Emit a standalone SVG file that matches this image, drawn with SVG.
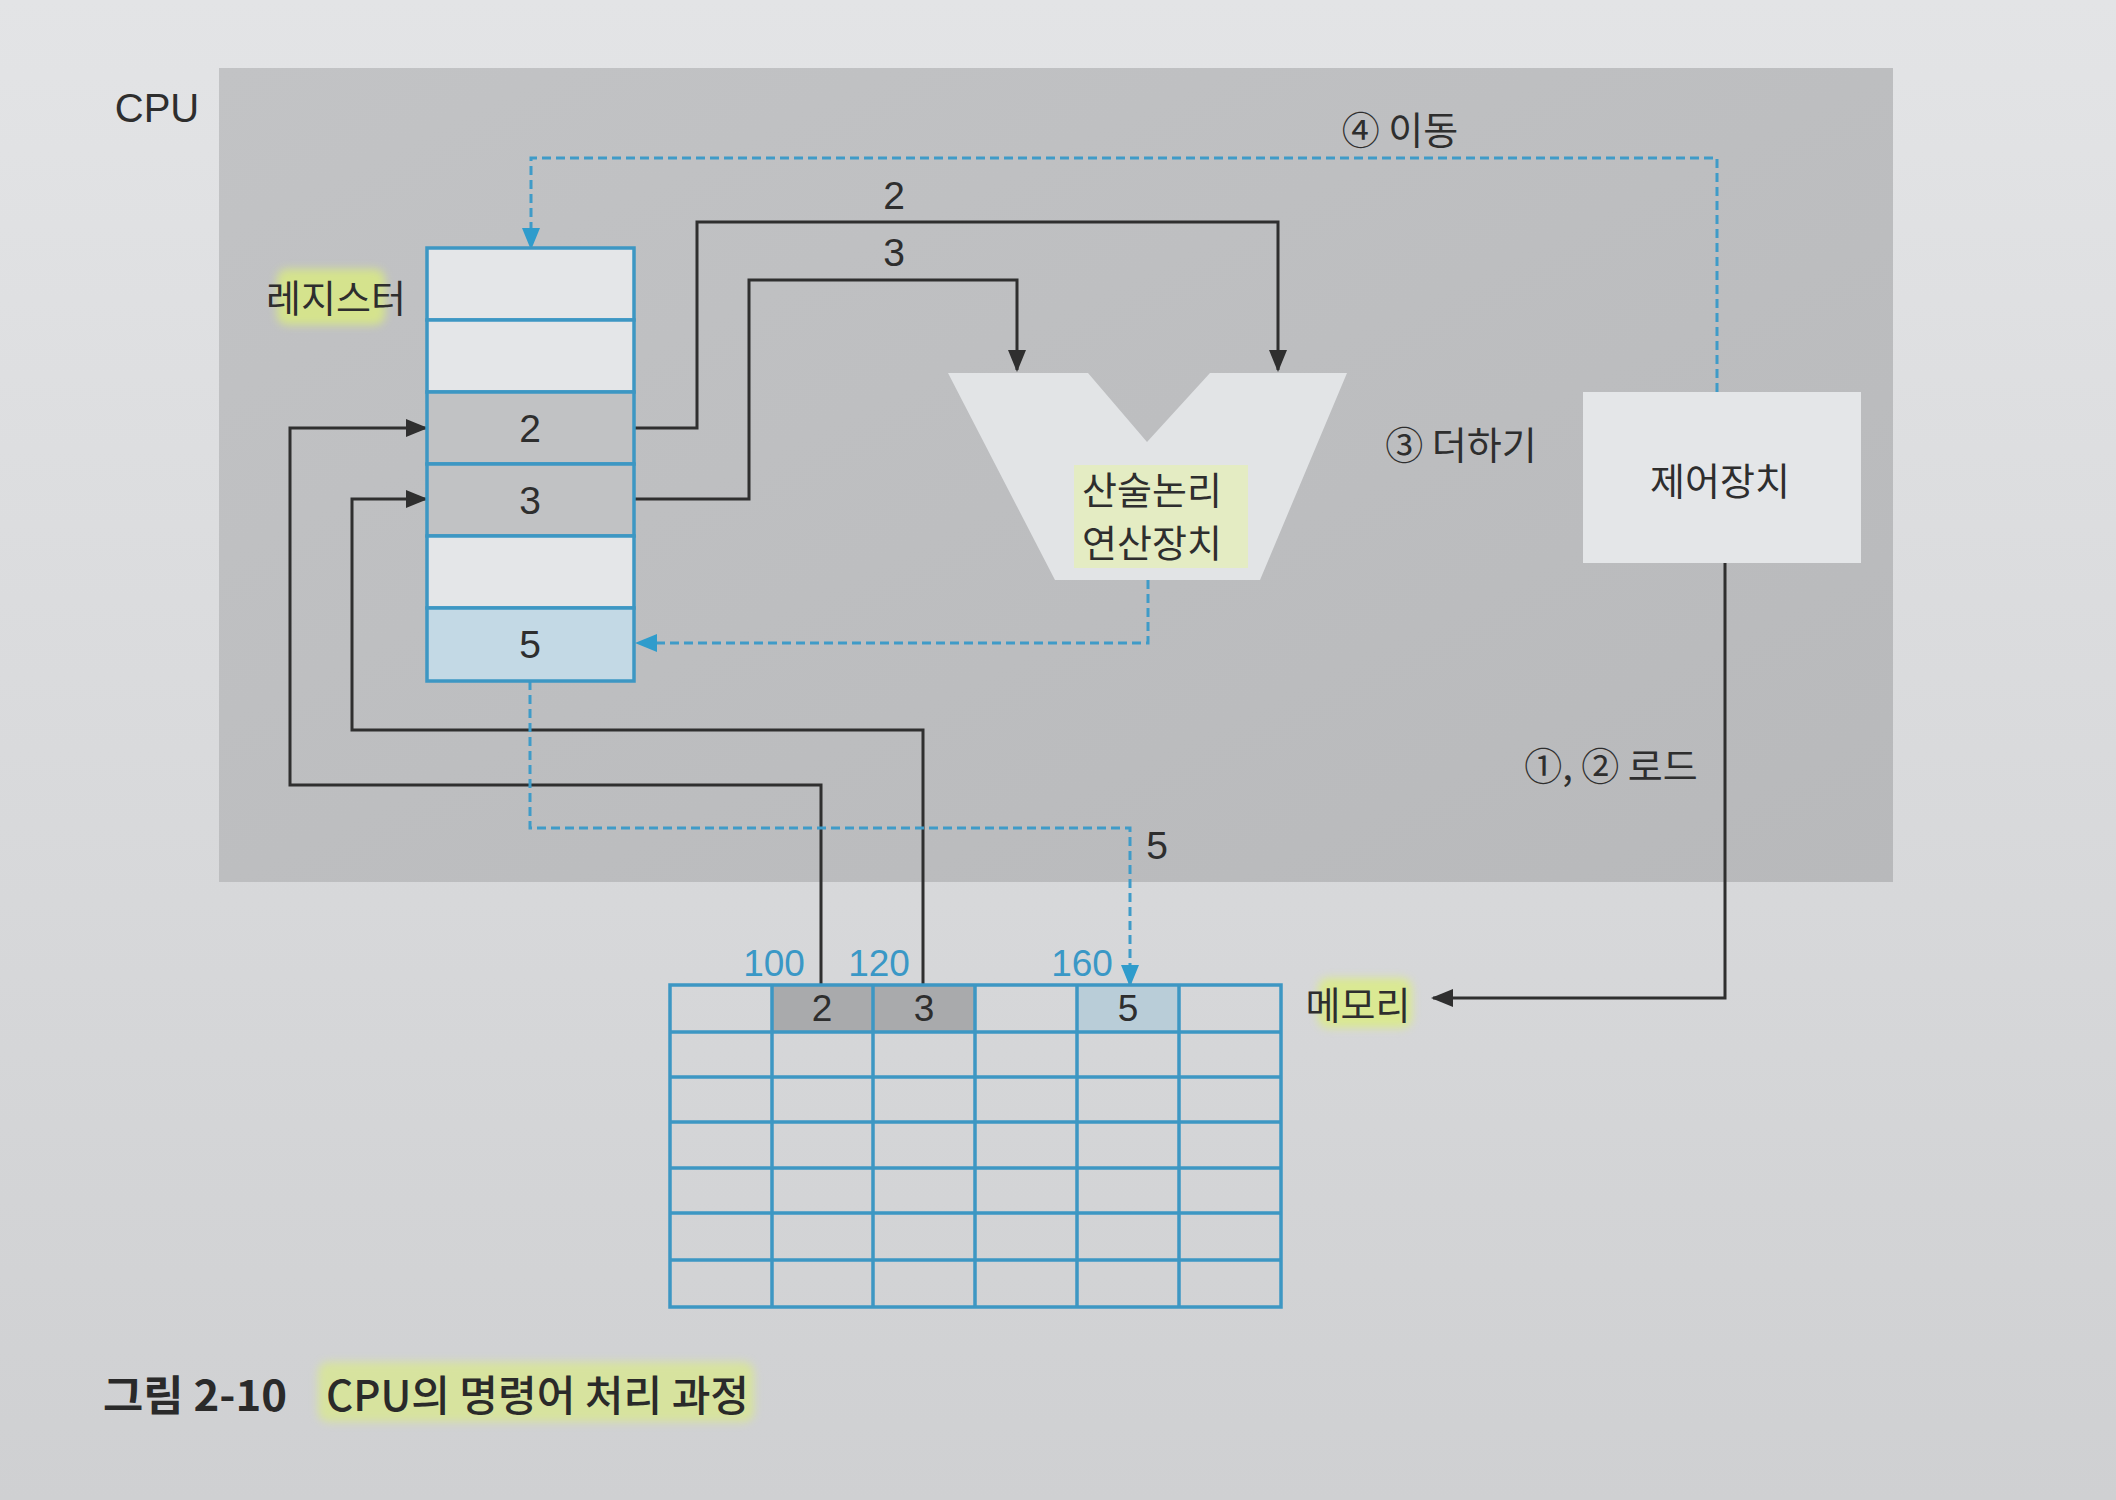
<svg xmlns="http://www.w3.org/2000/svg" width="2116" height="1500" viewBox="0 0 2116 1500">
<defs>
<style>
.t{font-family:"Noto Sans CJK KR","Noto Sans",sans-serif;fill:#2e2e2e;font-size:38px;text-anchor:middle;dominant-baseline:central}
.n{font-family:"Liberation Sans","Noto Sans CJK KR",sans-serif;fill:#2e2e2e;font-size:39px;text-anchor:middle;dominant-baseline:central}
.addr{font-family:"Liberation Sans","Noto Sans CJK KR",sans-serif;fill:#3a98c6;font-size:37px;text-anchor:middle;dominant-baseline:central}
.blk{fill:none;stroke:#2f2f2f;stroke-width:3}
.dash{fill:none;stroke:#3f9bc8;stroke-width:3;stroke-dasharray:9 5}
.reg{stroke:#3d97c3;stroke-width:3.5}
.grid{fill:none;stroke:#3d97c3;stroke-width:3.5}
.hl{fill:#dcef7c;opacity:0.75;filter:url(#soft)}
</style>
<linearGradient id="page" x1="0" y1="0" x2="0" y2="1">
<stop offset="0" stop-color="#e3e4e6"/>
<stop offset="1" stop-color="#cfd0d2"/>
</linearGradient>
<linearGradient id="cpu" x1="0" y1="0" x2="1" y2="1">
<stop offset="0" stop-color="#c2c3c5"/>
<stop offset="1" stop-color="#b8b9bb"/>
</linearGradient>
<filter id="soft" x="-20%" y="-20%" width="140%" height="140%">
<feGaussianBlur stdDeviation="4"/>
</filter>
<marker id="ab" markerUnits="userSpaceOnUse" markerWidth="22" markerHeight="18" refX="20" refY="9" orient="auto">
<path d="M0,0 L22,9 L0,18 Z" fill="#2f2f2f"/>
</marker>
<marker id="au" markerUnits="userSpaceOnUse" markerWidth="22" markerHeight="18" refX="20" refY="9" orient="auto">
<path d="M0,0 L22,9 L0,18 Z" fill="#2f9ccc"/>
</marker>
</defs>

<rect x="0" y="0" width="2116" height="1500" fill="url(#page)"/>

<g id="cpu-area">
<rect x="219" y="68" width="1674" height="814" fill="url(#cpu)"/>
<text class="n" x="157" y="108" style="font-size:40px">CPU</text>
</g>

<g id="highlights">
<rect class="hl" x="277" y="269" width="108" height="56" rx="10"/>
<rect class="hl" x="1072" y="463" width="178" height="107" rx="6" style="opacity:0.55"/>
<rect class="hl" x="1646" y="450" width="162" height="60" rx="10"/>
<rect class="hl" x="1318" y="978" width="94" height="50" rx="10"/>
<rect class="hl" x="318" y="1362" width="436" height="60" rx="10" style="opacity:0.6"/>
</g>

<g id="connectors">
<polyline class="blk" points="634,428 697,428 697,222 1278,222 1278,370" marker-end="url(#ab)"/>
<polyline class="blk" points="634,499 749,499 749,280 1017,280 1017,370" marker-end="url(#ab)"/>
<polyline class="blk" points="821,985 821,785 290,785 290,428 426,428" marker-end="url(#ab)"/>
<polyline class="blk" points="923,985 923,730 352,730 352,499 426,499" marker-end="url(#ab)"/>
<polyline class="blk" points="1725,563 1725,998 1433,998" marker-end="url(#ab)"/>
<polyline class="dash" points="1148,580 1148,643 637,643" marker-end="url(#au)"/>
<polyline class="dash" points="530,681 530,828 1130,828 1130,985" marker-end="url(#au)"/>
<polyline class="dash" points="1717,392 1717,158 531,158 531,248" marker-end="url(#au)"/>
<text class="n" x="894" y="195">2</text>
<text class="n" x="894" y="252">3</text>
<text class="n" x="1157" y="845">5</text>
<text class="t" x="1400" y="127">④ 이동</text>
<text class="t" x="1461" y="442">③ 더하기</text>
<text class="t" x="1611" y="763">①, ② 로드</text>
</g>

<g id="register">
<rect class="reg" x="427" y="248" width="207" height="72" fill="#e4e6e8"/>
<rect class="reg" x="427" y="320" width="207" height="72" fill="#e4e6e8"/>
<rect class="reg" x="427" y="392" width="207" height="72" fill="#c1c2c4"/>
<rect class="reg" x="427" y="464" width="207" height="72" fill="#c1c2c4"/>
<rect class="reg" x="427" y="536" width="207" height="72" fill="#e4e6e8"/>
<rect class="reg" x="427" y="608" width="207" height="73" fill="#c3d9e5"/>
<text class="n" x="530" y="428">2</text>
<text class="n" x="530" y="500">3</text>
<text class="n" x="530" y="644">5</text>
<text class="t" x="336" y="295">레지스터</text>
</g>

<g id="alu">
<polygon points="948,373 1088,373 1147,442 1210,373 1347,373 1260,580 1055,580" fill="#e2e4e6"/>
<rect x="1074" y="465" width="174" height="103" fill="#e6efb4" opacity="0.7"/>
<text class="t" x="1152" y="487">산술논리</text>
<text class="t" x="1152" y="540">연산장치</text>
</g>

<g id="control-unit">
<rect x="1583" y="392" width="278" height="171" fill="#e4e6e8"/>
<text class="t" x="1720" y="478">제어장치</text>
</g>

<g id="memory">
<rect x="772" y="985" width="203" height="47" fill="#a9aaac"/>
<rect x="1077" y="985" width="102" height="47" fill="#b9cdd8"/>
<rect class="grid" x="670" y="985" width="611" height="322"/>
<path class="grid" d="M772,985V1307M873,985V1307M975,985V1307M1077,985V1307M1179,985V1307M670,1032H1281M670,1077H1281M670,1122H1281M670,1168H1281M670,1213H1281M670,1260H1281"/>
<text class="n" x="822" y="1008" style="font-size:37px">2</text>
<text class="n" x="924" y="1008" style="font-size:37px">3</text>
<text class="n" x="1128" y="1008" style="font-size:37px">5</text>
<text class="addr" x="774" y="963">100</text>
<text class="addr" x="879" y="963">120</text>
<text class="addr" x="1082" y="963">160</text>
<text class="t" x="1358" y="1002">메모리</text>
</g>

<g id="caption">
<text x="103" y="1392" style="font-family:'Noto Sans CJK KR',sans-serif;font-weight:700;font-size:42px;fill:#2a2a2a;dominant-baseline:central" textLength="184" lengthAdjust="spacingAndGlyphs">그림 2-10</text>
<text x="326" y="1392" style="font-family:'Noto Sans CJK KR',sans-serif;font-weight:500;font-size:42px;fill:#2a2a2a;dominant-baseline:central" textLength="423" lengthAdjust="spacingAndGlyphs">CPU의 명령어 처리 과정</text>
</g>
</svg>
